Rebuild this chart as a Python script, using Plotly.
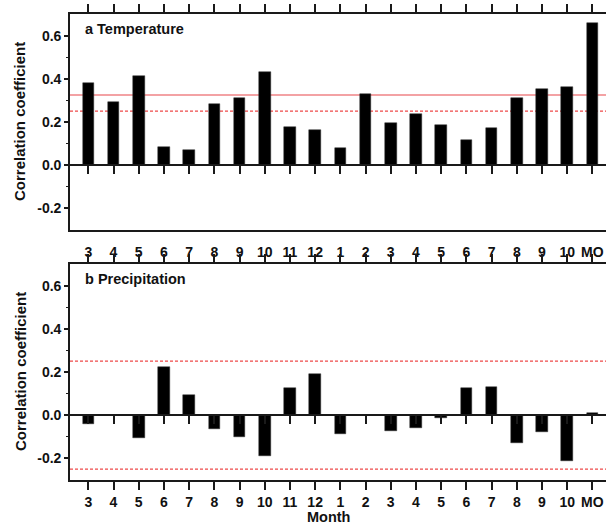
import plotly.graph_objects as go

# ---- data ----
months = ["3", "4", "5", "6", "7", "8", "9", "10", "11", "12",
          "1", "2", "3", "4", "5", "6", "7", "8", "9", "10", "MO"]
temperature = [0.379, 0.293, 0.413, 0.083, 0.071, 0.284, 0.310, 0.432, 0.177, 0.163,
               0.079, 0.330, 0.196, 0.236, 0.187, 0.116, 0.174, 0.310, 0.353, 0.362, 0.657]
precipitation = [-0.042, 0.003, -0.107, 0.223, 0.093, -0.063, -0.100, -0.190, 0.125, 0.193,
                 -0.088, 0.001, -0.074, -0.059, -0.012, 0.125, 0.130, -0.128, -0.077, -0.212, 0.011]
temp_sig01 = 0.325
temp_sig05 = 0.25
prec_sig05 = [0.25, -0.25]
y_tickvals = [-0.2, 0.0, 0.2, 0.4, 0.6]
y_ticktext = ["-0.2", "0.0", "0.2", "0.4", "0.6"]
y_minor_ticks = [-0.1, 0.1, 0.3, 0.5]

x_idx = list(range(len(months)))

FONT = "Liberation Sans, Arial, sans-serif"
AX = "#1a1a1a"
TXT = "#111111"
XRANGE = [-0.726, 20.54]
YRANGE = [-0.3, 0.7]
TOP_DOM = [0.5365, 1.0]
BOT_DOM = [0.0, 0.4635]

fig = go.Figure()
fig.add_trace(go.Bar(x=x_idx, y=temperature, xaxis="x", yaxis="y", width=0.46,
                     marker=dict(color="black", line=dict(color="#333", width=0.5)),
                     showlegend=False))
fig.add_trace(go.Bar(x=x_idx, y=precipitation, xaxis="x2", yaxis="y2", width=0.46,
                     marker=dict(color="black", line=dict(color="#333", width=0.5)),
                     showlegend=False))

tickfont = dict(family=FONT, size=14, color=TXT, weight="bold")


def xax(**kw):
    d = dict(range=XRANGE, tickmode="array", tickvals=x_idx, ticktext=months, showgrid=False,
             zeroline=False, linecolor=AX, linewidth=1.6, tickcolor=AX, tickwidth=1.6,
             tickfont=tickfont, showline=True)
    d.update(kw)
    return d


ybase = dict(range=YRANGE, tickmode="array", tickvals=y_tickvals, ticktext=y_ticktext,
             showgrid=False, showline=True, linecolor=AX, linewidth=1.6, ticks="outside",
             ticklen=4, tickwidth=1.5, tickcolor=AX, tickfont=tickfont,
             zeroline=True, zerolinecolor=AX, zerolinewidth=1.6,
             minor=dict(tickmode="array", tickvals=y_minor_ticks, ticks="outside",
                        ticklen=2, tickcolor=AX, tickwidth=1.2))


def pos_zero(dom):
    return dom[0] + (0 - YRANGE[0]) / (YRANGE[1] - YRANGE[0]) * (dom[1] - dom[0])


fig.update_layout(
    width=606, height=524,
    margin=dict(l=70, r=0, t=14, b=44),
    paper_bgcolor="white", plot_bgcolor="white",
    bargap=0,
    xaxis=xax(anchor="y", ticks="outside", ticklen=8, tickcolor="rgba(0,0,0,0)"),
    yaxis=dict(**ybase, domain=TOP_DOM, anchor="x"),
    xaxis2=xax(anchor="y2", mirror="ticks", ticks="outside", ticklen=8),
    yaxis2=dict(**ybase, domain=BOT_DOM, anchor="x2"),
    # top border ticks of the upper panel
    xaxis3=xax(overlaying="x", side="top", anchor="y", ticks="outside", ticklen=8,
               showticklabels=False),
    # zero-line axes with downward ticks
    xaxis4=xax(overlaying="x", side="bottom", anchor="free", position=pos_zero(TOP_DOM),
               ticks="outside", ticklen=8, showticklabels=False),
    xaxis5=xax(overlaying="x2", side="bottom", anchor="free", position=pos_zero(BOT_DOM),
               ticks="outside", ticklen=8, showticklabels=False),
)

# invisible traces so the overlay axes are drawn
for xa, ya in (("x3", "y"), ("x4", "y"), ("x5", "y2")):
    fig.add_trace(go.Scatter(x=[x_idx[0]], y=[0], xaxis=xa, yaxis=ya, mode="markers",
                             marker=dict(opacity=0), showlegend=False, hoverinfo="skip"))

# significance lines
fig.add_shape(type="line", xref="x domain", x0=0, x1=1, yref="y", y0=temp_sig01, y1=temp_sig01,
              line=dict(color="#e8474a", width=1.2), layer="below")
fig.add_shape(type="line", xref="x domain", x0=0, x1=1, yref="y", y0=temp_sig05, y1=temp_sig05,
              line=dict(color="#ee4a4a", width=1.2, dash="3px,2px"), layer="below")
for v in prec_sig05:
    fig.add_shape(type="line", xref="x2 domain", x0=0, x1=1, yref="y2", y0=v, y1=v,
                  line=dict(color="#ee4a4a", width=1.2, dash="3px,2px"), layer="below")

labfont = dict(family=FONT, size=14.5, color=TXT, weight="bold")
fig.add_annotation(text="a Temperature", xref="x domain", yref="y domain", x=0.024, y=0.93,
                   xanchor="left", yanchor="middle", showarrow=False, font=labfont)
fig.add_annotation(text="b Precipitation", xref="x2 domain", yref="y2 domain", x=0.024, y=0.93,
                   xanchor="left", yanchor="middle", showarrow=False, font=labfont)

titlefont = dict(family=FONT, size=15, color=TXT, weight="bold")
for dom in (TOP_DOM, BOT_DOM):
    fig.add_annotation(text="Correlation coefficient", textangle=-90, xref="paper", yref="paper",
                       x=(20 - 70) / 536, y=(dom[0] + dom[1]) / 2, xanchor="center",
                       yanchor="middle", showarrow=False, font=titlefont)
fig.add_annotation(text="Month", xref="paper", yref="paper", x=(328 - 70) / 536,
                   y=(480 - 517) / 466, xanchor="center", yanchor="middle", showarrow=False,
                   font=dict(family=FONT, size=14.5, color=TXT, weight="bold"))

fig.write_html("out.html")
